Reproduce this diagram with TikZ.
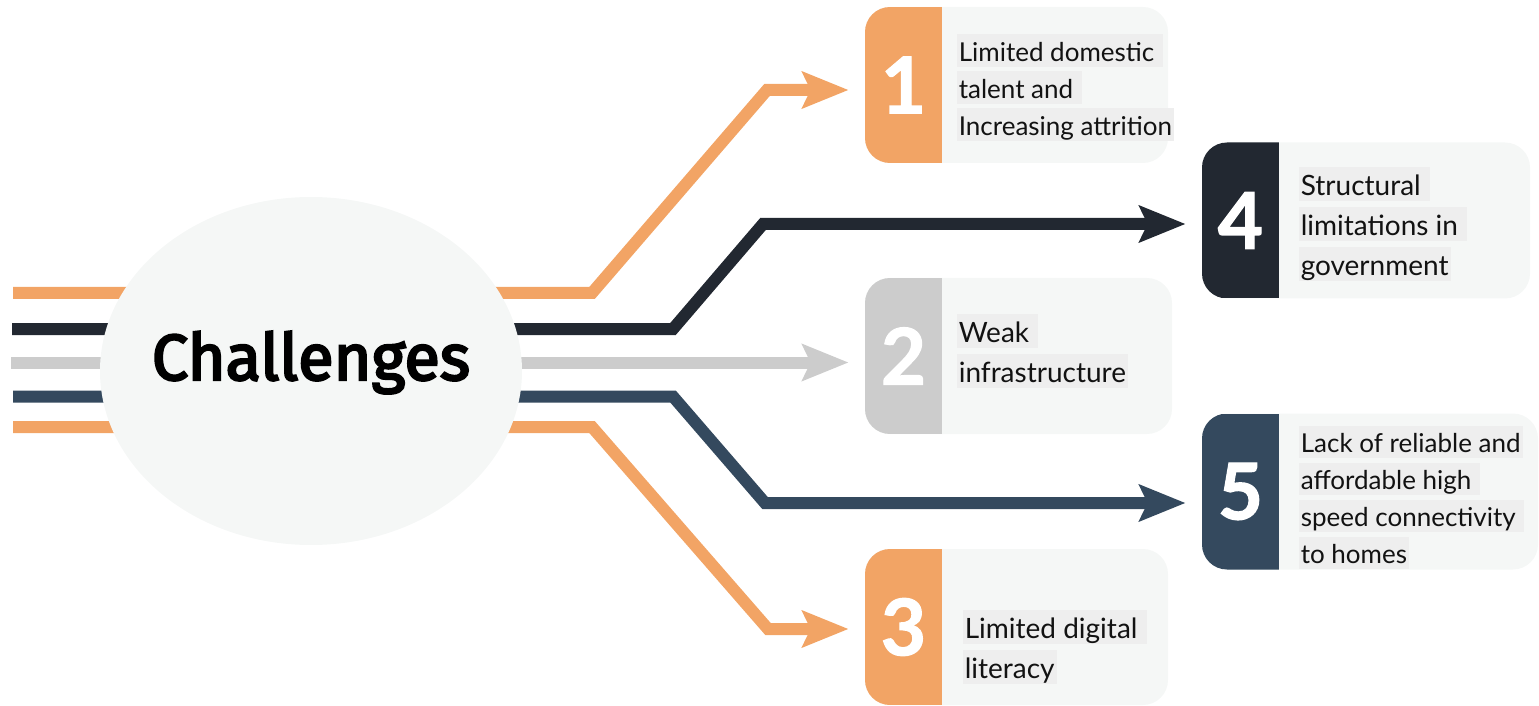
\documentclass[tikz,border=0pt]{standalone}
\usepackage{fontspec}
\setmainfont{Lato}
\newfontfamily\titlefont{Fira Sans}[FakeBold=3.5]
\newfontfamily\numfont{Lato}[BoldFeatures={FakeBold=1.5}]
\usetikzlibrary{arrows.meta, positioning, shapes.geometric}

\definecolor{accent}{HTML}{F2A465}
\definecolor{ink}{HTML}{222831}
\definecolor{ash}{HTML}{CCCCCC}
\definecolor{slate}{HTML}{34495E}
\definecolor{cardbg}{HTML}{F5F7F6}
\definecolor{hlgray}{HTML}{EEEEEE}

\setlength{\fboxsep}{0pt}
\newcommand{\hl}[1]{\colorbox{hlgray}{\kern1pt\rule[-0.2em]{0pt}{1.24em}#1\kern1pt}}

\begin{document}
\begin{tikzpicture}[
    x=0.5pt, y=-0.5pt,
    flow/.style={line width=6pt, draw=#1, -{Stealth[length=23pt, width=18pt, inset=4pt]}, shorten >=8pt},
    card/.style={rounded corners=12.5pt, fill=cardbg, minimum height=78pt, inner sep=0pt,
        path picture={\fill[#1, sharp corners] (path picture bounding box.south west) rectangle ([xshift=38.5pt]path picture bounding box.north west);}},
    num/.style={minimum width=38.5pt, inner sep=0pt, text=white, font=\numfont\fontsize{39}{39}\selectfont\bfseries},
    desc/.style={inner sep=0pt, align=left, text=black!93},
    small/.style={font=\fontsize{13}{18.5}\selectfont},
    large/.style={font=\fontsize{14}{20}\selectfont}
]

\path[use as bounding box] (0,0) rectangle (1539,706);

% cards
\node[card=accent, minimum width=151.5pt] (card1) at (1016.5,85) {};
\node[card=ink, minimum width=164pt] (card4) at (1366,220.5) {};
\node[card=ash, minimum width=153.5pt] (card2) at (1018.5,356) {};
\node[card=slate, minimum width=168pt] (card5) at (1370,491.5) {};
\node[card=accent, minimum width=151.5pt] (card3) at (1016.5,627) {};

\node[num, anchor=west] (num1) at (card1.west) {1};
\node[num, anchor=west] (num4) at (card4.west) {4};
\node[num, anchor=west] (num2) at (card2.west) {2};
\node[num, anchor=west] (num5) at (card5.west) {5};
\node[num, anchor=west] (num3) at (card3.west) {3};

\node[desc, small, right=7pt of num1, yshift=-1.25pt] (txt1)
    {\hl{Limited domestic\ }\\\hl{talent and\ }\\\hl{Increasing attrition}};
\node[desc, large, right=9.5pt of num4, yshift=-1.75pt] (txt4)
    {\hl{Structural\ }\\\hl{limitations in\ }\\\hl{government}};
\node[desc, large, right=7pt of num2, yshift=2.5pt] (txt2)
    {\hl{Weak\ }\\\hl{infrastructure}};
\node[desc, small, right=9.5pt of num5, yshift=-3pt] (txt5)
    {\hl{Lack of reliable and}\\\hl{affordable high\ }\\\hl{speed connectivity\ }\\\hl{to homes}};
\node[desc, large, right=10pt of num3, yshift=-10pt] (txt3)
    {\hl{Limited digital\ }\\\hl{literacy}};

% flows
\coordinate (s1) at (13,293);
\coordinate (s2) at (12,329);
\coordinate (s3) at (11,362.5);
\coordinate (s4) at (13,396.5);
\coordinate (s5) at (13,427);

\draw[flow=accent] (s1) -- (592,293) -- (767,90) -- ([yshift=-2.5pt]card1.west);
\draw[flow=ink] (s2) -- (673,329) -- (763,224) -- ([yshift=-1.75pt]card4.west);
\draw[flow=ash] (s3) -- ([yshift=-3.25pt]card2.west);
\draw[flow=slate] (s4) -- (673,396.5) -- (765,503) -- ([yshift=-5.75pt]card5.west);
\draw[flow=accent] (s5) -- (592,427) -- (768,629) -- ([yshift=-1pt]card3.west);

% hub
\node[ellipse, fill=cardbg, minimum width=211pt, minimum height=174pt, inner sep=0pt] (chal) at (311,371) {};
\node[anchor=base, font=\titlefont\fontsize{32.5}{33}\selectfont] (chaltxt)
    at ([yshift=-4.5pt]chal.center) {Challenges};

\end{tikzpicture}
\end{document}
